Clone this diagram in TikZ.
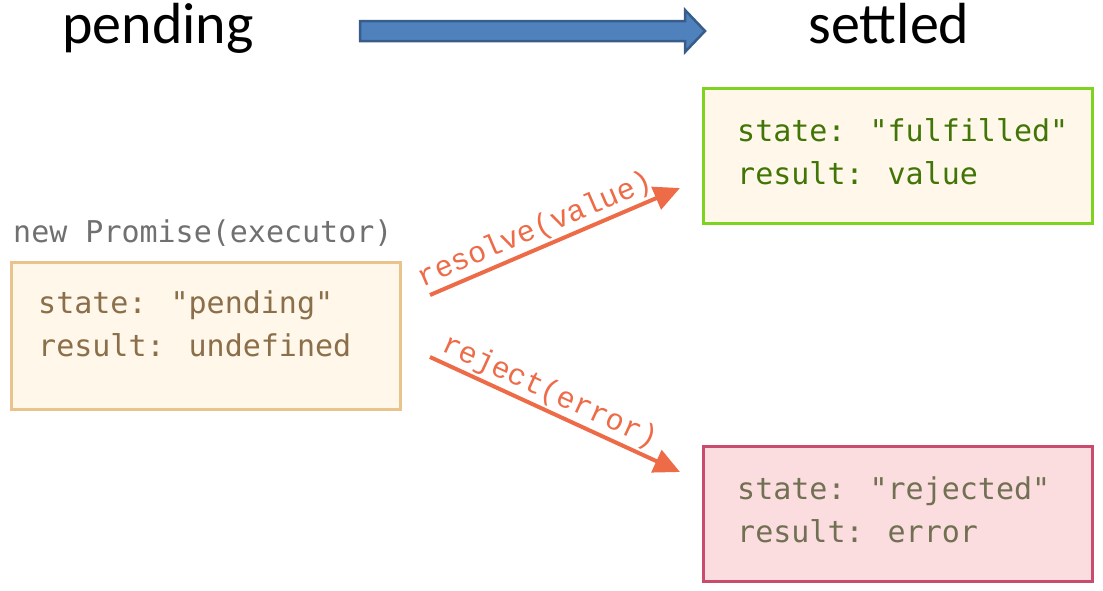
\documentclass[tikz,border=0pt]{standalone}
\usepackage{fontspec}
\usepackage{tikz}
\usetikzlibrary{arrows.meta}
\usetikzlibrary{positioning}
\usetikzlibrary{calc}

\newfontfamily\headfont{Carlito}
\newfontfamily\codefont{DejaVu Sans Mono}
\newfontfamily\callfont{Liberation Mono}

\definecolor{pendline}{HTML}{E8C48C}
\definecolor{pendfill}{HTML}{FEF7EA}
\definecolor{pendtext}{HTML}{8B6E4A}
\definecolor{fulline}{HTML}{7ED321}
\definecolor{fultext}{HTML}{417505}
\definecolor{rejline}{HTML}{C94C6E}
\definecolor{rejfill}{HTML}{FBDDE0}
\definecolor{rejtext}{HTML}{727052}
\definecolor{flow}{HTML}{EE6B48}
\definecolor{newtext}{HTML}{707070}
\definecolor{blockfill}{HTML}{4F81BD}
\definecolor{blockline}{HTML}{385D8A}

\tikzstyle{heading} = [anchor=base, inner sep=0pt, font=\headfont\fontsize{58}{62}\selectfont]
\tikzstyle{state} = [rectangle, line width=3pt, minimum width=389pt, inner sep=0pt]
\tikzstyle{code} = [anchor=base west, align=left, inner sep=0pt, font=\codefont\fontsize{30}{43}\selectfont]
\tikzstyle{call} = [sloped, above=2pt, inner sep=0pt, text=flow, font=\callfont\fontsize{30}{36}\selectfont]
\tikzstyle{arrow} = [-{Triangle[length=26pt,width=24pt]}, line width=4pt, draw=flow]
\tikzstyle{bigarrow} = [fill=blockfill, draw=blockline, line width=2.5pt, line join=miter]

\begin{document}
\begin{tikzpicture}[x=1pt, y=-1pt]

  \useasboundingbox (0,0) rectangle (1103,590);

  % headings
  \node (pendhead) [heading] at (158,43) {pending};
  \node (settlehead) [heading] at (889,43) {settled};
  \draw[bigarrow] (360,21) -- (685,21) -- (685,10) -- (705,31) -- (685,52) -- (685,41) -- (360,41) -- cycle;

  % pending
  \node (pendbox) [state, draw=pendline, fill=pendfill, minimum height=147pt] at (206,336) {};
  \node (newcall) [anchor=base west, inner sep=0pt, text=newtext, font=\codefont\fontsize{30}{36}\selectfont]
    at ($(pendbox.north west)+(3,-19)$) {new Promise(executor)};
  % base anchor sits on the last line
  \node (pendcode) [code, text=pendtext] at ($(pendbox.north west)+(28,95)$)
    {state: "pending"\\result: undefined};

  % fulfilled
  \node (fulbox) [state, draw=fulline, fill=pendfill, minimum height=135pt] at (898,156) {};
  \node (fulcode) [code, text=fultext] at ($(fulbox.north west)+(35,97)$)
    {state: "fulfilled"\\result: value};

  % rejected
  \node (rejbox) [state, draw=rejline, fill=rejfill, minimum height=135pt] at (898,514) {};
  \node (rejcode) [code, text=rejtext] at ($(rejbox.north west)+(35,97)$)
    {state: "rejected"\\result: error};

  % resolve / reject
  \coordinate (resolvestart) at (430,295);
  \coordinate (resolveend) at (680,188);
  \coordinate (rejectstart) at (430,357);
  \coordinate (rejectend) at (680,472);

  \draw[arrow] (resolvestart) -- node[call, pos=0.45] {resolve(value)} (resolveend);
  \draw[arrow] (rejectstart) -- node[call, pos=0.45] {reject(error)} (rejectend);

\end{tikzpicture}
\end{document}
